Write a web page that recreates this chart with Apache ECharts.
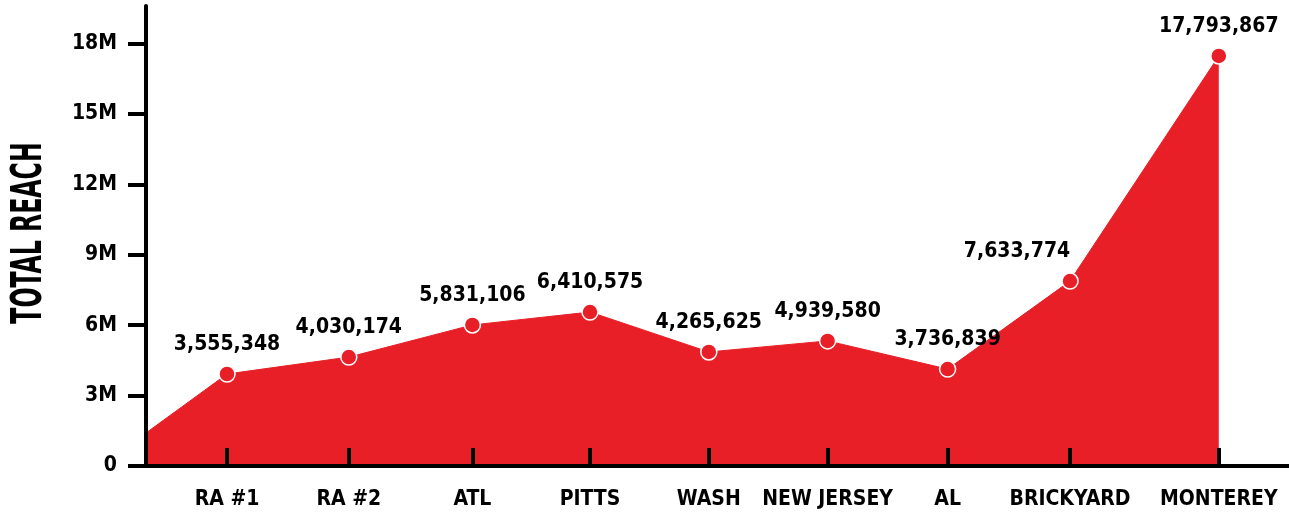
<!DOCTYPE html>
<html><head><meta charset="utf-8">
<script src="https://cdn.jsdelivr.net/npm/echarts@6/dist/echarts.min.js"></script>
<style>html,body{margin:0;padding:0;background:#fff}#c{width:1289px;height:518px}</style>
</head><body><div id="c"></div>
<script>
const categories = ['RA #1','RA #2','ATL','PITTS','WASH','NEW JERSEY','AL','BRICKYARD','MONTEREY'];
const categoryX = [0.675, 1.69, 2.72, 3.70, 4.69, 5.68, 6.68, 7.70, 8.94];
const reach = [3.92e6, 4.64e6, 6.01e6, 6.56e6, 4.86e6, 5.33e6, 4.13e6, 7.88e6, 17.47e6];
const reachLabels = ['3,555,348','4,030,174','5,831,106','6,410,575','4,265,625','4,939,580','3,736,839','7,633,774','17,793,867'];
const startReach = 1.41e6;
const yTicks = [0, 3e6, 6e6, 9e6, 12e6, 15e6, 18e6];
const yTickLabels = ['0','3M','6M','9M','12M','15M','18M'];
const axisTitle = 'TOTAL REACH';

const RED = '#e81f26';
const FONT = "'DejaVu Sans Condensed','Liberation Sans',sans-serif";

const seriesData = [{ value: [0, startReach], symbolSize: 0, label: { show: false } }]
  .concat(categoryX.map((x, i) => ({
    value: [x, reach[i]],
    label: Object.assign({ formatter: reachLabels[i] }, i === 7 ? { offset: [-53, 0] } : {})
  })));

function nearestIndex(arr, v) {
  let best = 0;
  arr.forEach((a, i) => { if (Math.abs(a - v) < Math.abs(arr[best] - v)) best = i; });
  return best;
}

const chart = echarts.init(document.getElementById('c'));
chart.setOption({
  animation: false,
  backgroundColor: '#fff',
  grid: { left: 146, right: 0, top: 6, bottom: 52, containLabel: false },
  xAxis: {
    type: 'value', min: 0, max: 9.525, z: 10,
    splitLine: { show: false },
    axisLine: { show: true, onZero: false, lineStyle: { color: '#000', width: 4 } },
    axisTick: { show: true, inside: true, length: 18, lineStyle: { color: '#000', width: 4 }, customValues: categoryX },
    axisLabel: {
      customValues: categoryX, margin: 23,
      formatter: v => categories[nearestIndex(categoryX, v)],
      color: '#000', fontFamily: FONT, fontWeight: 'bold', fontSize: 21
    }
  },
  yAxis: {
    type: 'value', min: 0, max: 19.6e6, z: 10,
    splitLine: { show: false },
    axisLine: { show: true, lineStyle: { color: '#000', width: 4 } },
    axisTick: { show: true, inside: false, length: 18, lineStyle: { color: '#000', width: 4 }, customValues: yTicks },
    axisLabel: {
      customValues: yTicks, margin: 29,
      formatter: v => yTickLabels[nearestIndex(yTicks, v)],
      color: '#000', fontFamily: FONT, fontWeight: 'bold', fontSize: 21
    }
  },
  graphic: [{
    type: 'text', x: 30, y: 233, rotation: Math.PI / 2, scaleX: 0.61, scaleY: 1,
    style: { text: axisTitle, fill: '#000', font: "bold 43px " + FONT, textAlign: 'center', textVerticalAlign: 'middle' }
  }],
  series: [{
    type: 'line',
    data: seriesData,
    symbol: 'circle', symbolSize: 16, showAllSymbol: true,
    itemStyle: { color: RED, borderColor: '#fff', borderWidth: 1.5 },
    lineStyle: { color: RED, width: 1 },
    areaStyle: { color: RED, opacity: 1 },
    label: { show: true, position: 'top', distance: 10, color: '#000', fontFamily: FONT, fontWeight: 'bold', fontSize: 21 },
    z: 2
  }]
});
</script></body></html>
